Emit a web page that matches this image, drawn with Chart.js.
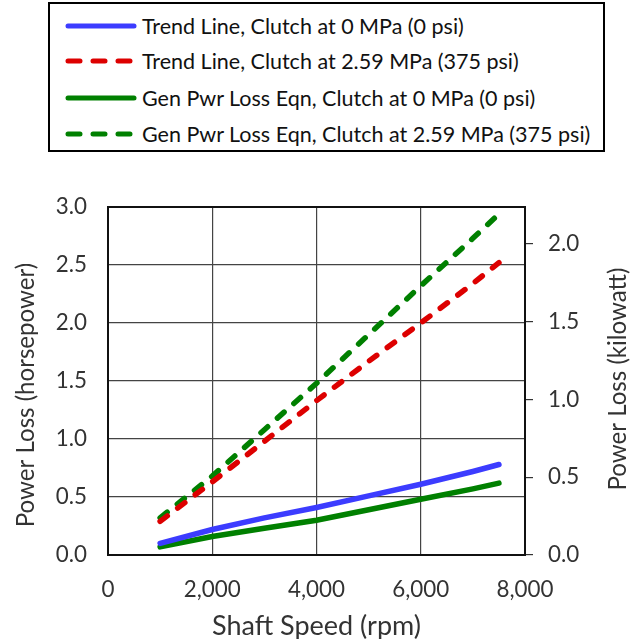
<!DOCTYPE html>
<html>
<head>
<meta charset="utf-8">
<script src="https://cdn.jsdelivr.net/npm/chart.js@4"></script>
<style>
  html, body { margin: 0; padding: 0; background: #fff; }
  #wrap { position: relative; width: 641px; height: 639px; }
  #legend {
    position: absolute; left: 48px; top: 2px; width: 553px; height: 146px;
    border: 2px solid #000; background: #fff;
    font-family: Lato, sans-serif; color: #111;
  }
  .row { position: absolute; left: 0; height: 30px; display: flex; align-items: center; white-space: nowrap; }
  .row svg { margin-left: 14px; margin-right: 4px; }
</style>
</head>
<body>
<div id="wrap">
  <canvas id="chart" width="641" height="639"></canvas>
  <div id="legend"></div>
</div>
<script>
'use strict';

// ── Data ──────────────────────────────────────────────────────
const SPEEDS = [1000, 2000, 3000, 4000, 5000, 6000, 7000, 7500];
const TREND_0 = [0.10, 0.22, 0.32, 0.41, 0.51, 0.61, 0.72, 0.78];
const TREND_375 = [0.29, 0.63, 0.98, 1.33, 1.67, 2.00, 2.34, 2.52];
const GEN_0 = [0.07, 0.16, 0.23, 0.30, 0.39, 0.48, 0.57, 0.62];
const GEN_375 = [0.32, 0.68, 1.08, 1.48, 1.90, 2.32, 2.73, 2.94];

const LABELS = [
  'Trend Line, Clutch at 0 MPa (0 psi)',
  'Trend Line, Clutch at 2.59 MPa (375 psi)',
  'Gen Pwr Loss Eqn, Clutch at 0 MPa (0 psi)',
  'Gen Pwr Loss Eqn, Clutch at 2.59 MPa (375 psi)'
];
const COLORS = ['#3c3cff', '#dd0000', '#008000', '#008000'];
const DASHED = [false, true, false, true];
const SERIES = [TREND_0, TREND_375, GEN_0, GEN_375];

const HP_TO_KW = 0.7457;
const TEXT_COLOR = '#333';

// ── Helpers ───────────────────────────────────────────────────
const toPoints = (vals) => vals.map((v, i) => ({ x: SPEEDS[i], y: v }));

// font size that makes `text` about `target` px wide
const measureCtx = document.createElement('canvas').getContext('2d');
function fitSize(text, target) {
  measureCtx.font = '100px Lato';
  return +(100 * target / measureCtx.measureText(text).width).toFixed(1);
}

const LEGEND_SIZE = fitSize(LABELS[0], 322);
const TICK_SIZE = fitSize('2,000', 57);
const XTITLE_SIZE = fitSize('Shaft Speed (rpm)', 209);
const YTITLE_SIZE = fitSize('Power Loss (horsepower)', 265);
const TICK_FONT = { family: 'Lato', size: TICK_SIZE };

function buildLegend() {
  const box = document.getElementById('legend');
  box.style.fontSize = LEGEND_SIZE + 'px';
  const rowsY = [7, 42, 79, 115];
  box.innerHTML = LABELS.map((lab, i) => `
    <div class="row" style="top:${rowsY[i]}px">
      <svg width="74" height="12">
        <line x1="4" y1="6" x2="70" y2="6" stroke="${COLORS[i]}" stroke-width="5"
          stroke-linecap="round" ${DASHED[i] ? 'stroke-dasharray="12 13"' : ''}/>
      </svg>
      <span>${lab}</span>
    </div>`).join('');
}

// ── Plugin: frame + vertical titles ───────────────────────────
const framePlugin = {
  id: 'frame',
  beforeDatasetsDraw(chart) {
    const { ctx, chartArea: a } = chart;
    ctx.save();
    ctx.strokeStyle = '#111';
    ctx.lineWidth = 2;
    ctx.strokeRect(a.left, a.top, a.right - a.left, a.bottom - a.top);
    ctx.restore();
  },
  afterDraw(chart) {
    const { ctx } = chart;
    const drawV = (txt, x, y) => {
      ctx.save();
      ctx.translate(x, y);
      ctx.rotate(-Math.PI / 2);
      ctx.font = `${YTITLE_SIZE}px Lato`;
      ctx.fillStyle = TEXT_COLOR;
      ctx.textAlign = 'center';
      ctx.textBaseline = 'middle';
      ctx.fillText(txt, 0, 0);
      ctx.restore();
    };
    drawV('Power Loss (horsepower)', 26, 395);
    drawV('Power Loss (kilowatt)', 618, 379);
  }
};

// ── Chart ─────────────────────────────────────────────────────
buildLegend();

new Chart(document.getElementById('chart'), {
  type: 'line',
  data: {
    datasets: SERIES.map((vals, i) => ({
      label: LABELS[i],
      data: toPoints(vals),
      borderColor: COLORS[i],
      borderWidth: 5.5,
      borderDash: DASHED[i] ? [9, 13] : [],
      borderCapStyle: 'round',
      pointRadius: 0,
      tension: 0,
      fill: false
    }))
  },
  options: {
    responsive: false,
    animation: false,
    layout: { padding: { top: 207, left: 0, right: 0, bottom: 0 } },
    plugins: { legend: { display: false }, tooltip: { enabled: false } },
    scales: {
      x: {
        type: 'linear', min: 0, max: 8000,
        afterFit(s) { s.height = 84; },
        grid: { color: '#444', lineWidth: 1.2, drawTicks: false },
        border: { display: false },
        ticks: {
          stepSize: 2000, padding: 21, color: TEXT_COLOR, font: TICK_FONT,
          maxRotation: 0,
          callback: (v) => v.toLocaleString('en-US')
        },
        title: {
          display: true, text: 'Shaft Speed (rpm)', color: TEXT_COLOR,
          font: { family: 'Lato', size: XTITLE_SIZE }, padding: { top: 0, bottom: -3 }
        }
      },
      y: {
        position: 'left', min: 0, max: 3,
        afterFit(s) { s.width = 108; },
        grid: { color: '#444', lineWidth: 1.2, drawTicks: false },
        border: { display: false },
        ticks: {
          stepSize: 0.5, padding: 21, color: TEXT_COLOR, font: TICK_FONT,
          callback: (v) => v.toFixed(1)
        }
      },
      y2: {
        position: 'right', min: 0, max: 3 * HP_TO_KW,
        afterFit(s) { s.width = 116; },
        grid: { drawOnChartArea: false, drawTicks: true, tickLength: 8, color: '#333', lineWidth: 1.2 },
        border: { display: false },
        ticks: {
          stepSize: 0.5, padding: 15, includeBounds: false, color: TEXT_COLOR, font: TICK_FONT,
          callback: (v) => v.toFixed(1)
        }
      }
    }
  },
  plugins: [framePlugin]
});
</script>
</body>
</html>
